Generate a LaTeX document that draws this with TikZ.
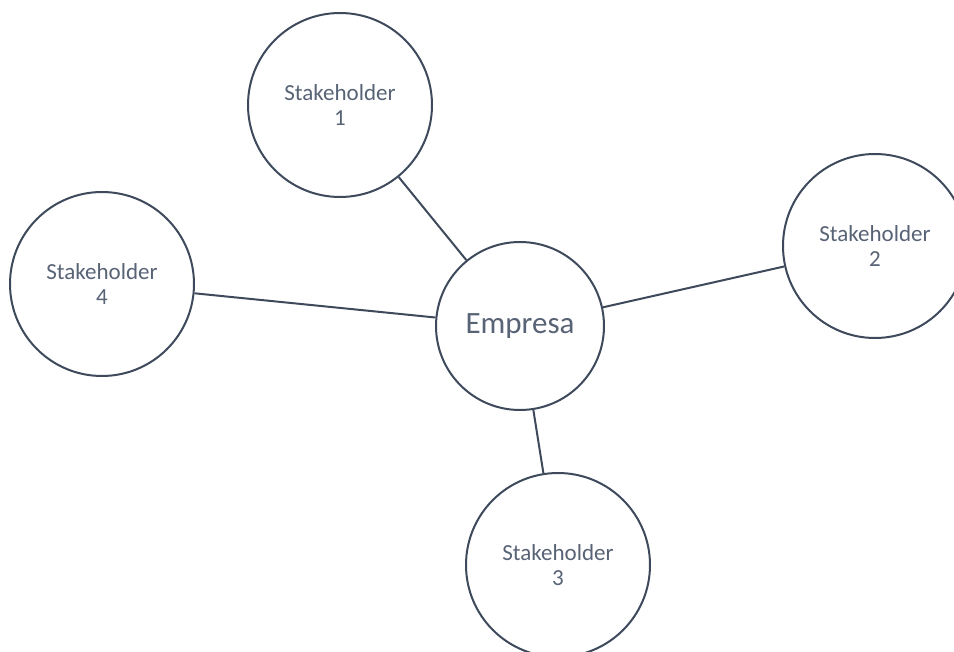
\documentclass[tikz,border=0pt]{standalone}
\usepackage{fontspec}
\setmainfont{Carlito}
\definecolor{edge}{RGB}{62,74,92}
\definecolor{label}{RGB}{88,99,118}
\begin{document}
\begin{tikzpicture}[x=1pt,y=-1pt,
  party/.style={circle, draw=edge, line width=2pt, fill=white,
    minimum size=184pt, inner sep=0pt, align=center, text=label,
    font=\fontsize{23}{25}\selectfont},
  hub/.style={party, minimum size=168pt, font=\fontsize{31}{36}\selectfont},
  link/.style={draw=edge, line width=2pt}]
\clip (0,0) rectangle (954,652);
\fill[white] (0,0) rectangle (954,652);

% central company and its stakeholders
\node[hub]   (emp) at (520,326) {Empresa};
\node[party] (s1)  at (340,105) {Stakeholder\\1};
\node[party] (s2)  at (875,246) {Stakeholder\\2};
\node[party] (s3)  at (558,565) {Stakeholder\\3};
\node[party] (s4)  at (102,284) {Stakeholder\\4};

% connections
\draw[link] (s1) -- (emp);
\draw[link] (s2) -- (emp);
\draw[link] (s3) -- (emp);
\draw[link] (s4) -- (emp);
\end{tikzpicture}
\end{document}
